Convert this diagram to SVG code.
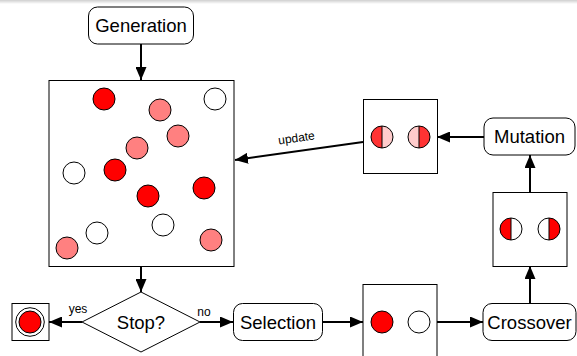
<svg xmlns="http://www.w3.org/2000/svg" width="577" height="356" viewBox="0 0 577 356">
<style>
.node{fill:#fff;stroke:#000;stroke-width:1}
.lbl{font-family:"Liberation Sans",Arial,sans-serif;font-size:18.5px;text-anchor:middle;fill:#000}
.small{font-family:"Liberation Sans",Arial,sans-serif;font-size:12px;text-anchor:middle;fill:#000}
.c{stroke:#000;stroke-width:1}
.red{fill:#ff0000}
.pink{fill:#ff8080}
.white{fill:#fff}
.edge{stroke:#000;stroke-width:2;fill:none;marker-end:url(#arr)}
</style>
<defs>
<marker id="arr" markerUnits="userSpaceOnUse" markerWidth="13" markerHeight="11" refX="13" refY="5.5" orient="auto">
<path d="M0,0 L13,5.5 L0,11 Z" fill="#000"/>
</marker>
<linearGradient id="top" x1="0" y1="0" x2="0" y2="1">
<stop offset="0" stop-color="#cfcfcf"/>
<stop offset="1" stop-color="#ffffff"/>
</linearGradient>
</defs>
<rect x="0" y="0" width="577" height="356" fill="#fff"/>
<rect x="0" y="0" width="577" height="4" fill="url(#top)"/>

<g id="connectors">
<line class="edge" x1="141" y1="44" x2="141" y2="80"/>
<line class="edge" x1="141" y1="267" x2="141" y2="292"/>
<line class="edge" x1="82" y1="322" x2="49" y2="322"/>
<line class="edge" x1="200" y1="322" x2="233" y2="322"/>
<line class="edge" x1="323" y1="322" x2="363" y2="322"/>
<line class="edge" x1="437" y1="322" x2="483" y2="322"/>
<line class="edge" x1="530" y1="303" x2="530" y2="266"/>
<line class="edge" x1="530" y1="192" x2="530" y2="155"/>
<line class="edge" x1="484" y1="137" x2="437" y2="137"/>
<line class="edge" x1="363" y1="142" x2="235" y2="160"/>
<text class="small" x="78" y="313">yes</text>
<text class="small" x="204" y="316">no</text>
<text class="small" transform="translate(297,142) rotate(-8)">update</text>
</g>

<g id="generation">
<rect class="node" x="88.5" y="7" width="105" height="37" rx="9"/>
<text class="lbl" x="141" y="32">Generation</text>
</g>

<g id="population">
<rect class="node" x="49" y="80.5" width="185" height="186"/>
<circle class="c red" cx="104" cy="99" r="11"/>
<circle class="c pink" cx="160" cy="110" r="11"/>
<circle class="c white" cx="215" cy="99" r="11"/>
<circle class="c pink" cx="178" cy="136" r="11"/>
<circle class="c pink" cx="137" cy="148" r="11"/>
<circle class="c white" cx="74" cy="173" r="11"/>
<circle class="c red" cx="115" cy="170" r="11"/>
<circle class="c red" cx="148" cy="196" r="11"/>
<circle class="c red" cx="204" cy="188" r="11"/>
<circle class="c white" cx="97" cy="233" r="11"/>
<circle class="c white" cx="163" cy="225" r="11"/>
<circle class="c pink" cx="67" cy="248" r="11"/>
<circle class="c pink" cx="211" cy="240" r="11"/>
</g>

<g id="stop">
<polygon class="node" points="141,292 200,322 141,352 82,322"/>
<text class="lbl" x="141" y="328.5">Stop?</text>
</g>

<g id="final">
<rect class="node" x="12" y="303.5" width="37" height="37"/>
<circle class="c white" cx="30" cy="322" r="14.3"/>
<circle class="c red" cx="30" cy="322" r="11"/>
</g>

<g id="selection">
<rect class="node" x="233.5" y="303.5" width="89" height="37" rx="9"/>
<text class="lbl" x="278" y="328.5">Selection</text>
</g>

<g id="selected">
<rect class="node" x="363" y="284.5" width="74" height="80"/>
<circle class="c red" cx="382" cy="322" r="11"/>
<circle class="c white" cx="419" cy="322" r="11"/>
</g>

<g id="crossover">
<rect class="node" x="483" y="303.5" width="93" height="37" rx="9"/>
<text class="lbl" x="529.5" y="328.5">Crossover</text>
</g>

<g id="offspring">
<rect class="node" x="493" y="192.5" width="74" height="74"/>
<path d="M511,218 A11,11 0 0 0 511,240 Z" fill="#ff0000"/>
<circle class="c" cx="511" cy="229" r="11" fill="none"/>
<line class="c" x1="511" y1="218" x2="511" y2="240"/>
<path d="M549,218 A11,11 0 0 1 549,240 Z" fill="#ff0000"/>
<circle class="c" cx="549" cy="229" r="11" fill="none"/>
<line class="c" x1="549" y1="218" x2="549" y2="240"/>
</g>

<g id="mutation">
<rect class="node" x="484" y="118" width="91" height="37" rx="9"/>
<text class="lbl" x="529.5" y="143">Mutation</text>
</g>

<g id="mutated">
<rect class="node" x="363.5" y="99.5" width="74" height="74"/>
<path d="M382,126 A11,11 0 0 0 382,148 Z" fill="#ff3333"/>
<path d="M382,126 A11,11 0 0 1 382,148 Z" fill="#ffcccc"/>
<circle class="c" cx="382" cy="137" r="11" fill="none"/>
<line class="c" x1="382" y1="126" x2="382" y2="148"/>
<path d="M419,126 A11,11 0 0 0 419,148 Z" fill="#ffcccc"/>
<path d="M419,126 A11,11 0 0 1 419,148 Z" fill="#ff3333"/>
<circle class="c" cx="419" cy="137" r="11" fill="none"/>
<line class="c" x1="419" y1="126" x2="419" y2="148"/>
</g>
</svg>
